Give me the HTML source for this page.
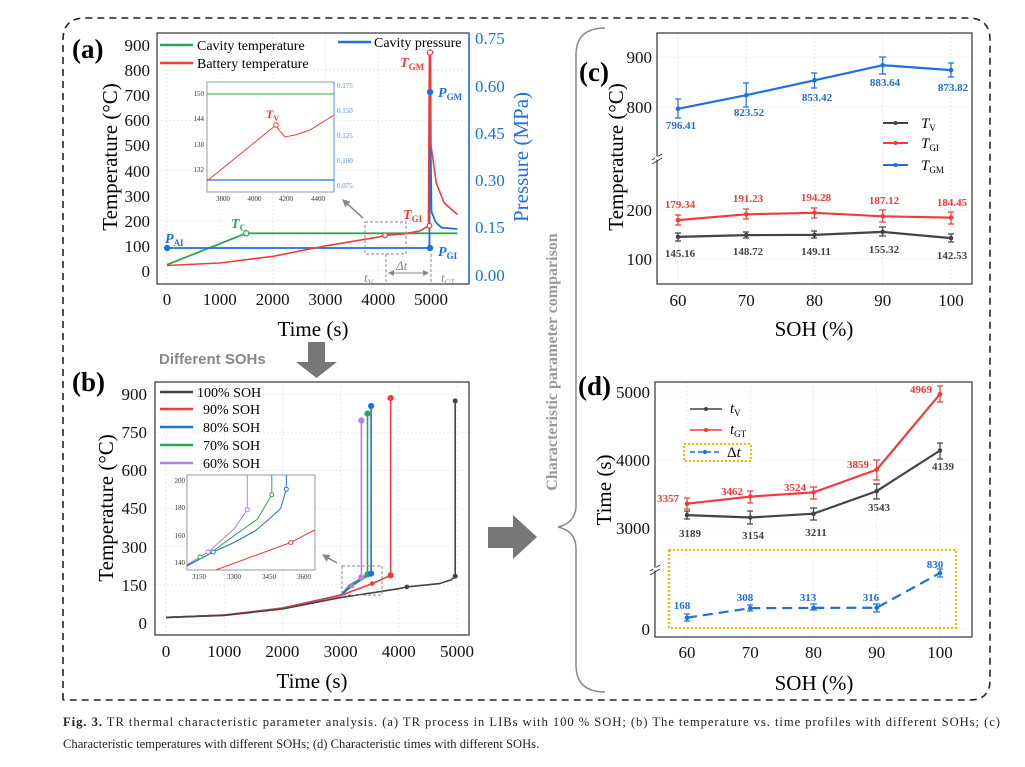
<!DOCTYPE html>
<html><head><meta charset="utf-8"><style>
html,body{margin:0;padding:0;background:#fff}
svg{display:block;font-family:"Liberation Serif",serif}
</style></head><body>
<svg width="1025" height="767" viewBox="0 0 1025 767" xmlns="http://www.w3.org/2000/svg">
<defs>
<marker id="ah" markerWidth="6" markerHeight="6" refX="5" refY="3" orient="auto"><path d="M0,0L6,3L0,6z" fill="#888"/></marker>
</defs>
<path d="M63,700 L63,40 Q63,18 85,18 L968,18 Q990,18 990,40 L990,680 Q990,700 970,700 L63,700" fill="none" stroke="#222" stroke-width="1.6" stroke-dasharray="7,5"/>

<!-- ========== PANEL A ========== -->
<g>
<g stroke="#ddd" stroke-width="0.6" stroke-dasharray="2,2">
<line x1="167" y1="33" x2="167" y2="284"/><line x1="219.8" y1="33" x2="219.8" y2="284"/><line x1="272.6" y1="33" x2="272.6" y2="284"/><line x1="325.4" y1="33" x2="325.4" y2="284"/><line x1="378.2" y1="33" x2="378.2" y2="284"/><line x1="431" y1="33" x2="431" y2="284"/>
<line x1="157" y1="271" x2="469" y2="271"/><line x1="157" y1="220.8" x2="469" y2="220.8"/><line x1="157" y1="170.6" x2="469" y2="170.6"/><line x1="157" y1="120.3" x2="469" y2="120.3"/><line x1="157" y1="70.1" x2="469" y2="70.1"/>
</g>
<rect x="157" y="33" width="312" height="251" fill="none" stroke="#333" stroke-width="1.2"/>
<line x1="469" y1="33" x2="469" y2="284" stroke="#1f6fe0" stroke-width="1.5"/>
<g fill="#111" font-size="17" text-anchor="end">
<text x="150" y="277">0</text><text x="150" y="252">100</text><text x="150" y="227">200</text><text x="150" y="202">300</text><text x="150" y="177">400</text><text x="150" y="151">500</text><text x="150" y="126">600</text><text x="150" y="101">700</text><text x="150" y="76">800</text><text x="150" y="51">900</text>
</g>
<g fill="#1f6fe0" font-size="17">
<text x="475" y="281">0.00</text><text x="475" y="233">0.15</text><text x="475" y="186">0.30</text><text x="475" y="139">0.45</text><text x="475" y="92">0.60</text><text x="475" y="44">0.75</text>
</g>
<g fill="#111" font-size="17" text-anchor="middle">
<text x="167" y="305">0</text><text x="219.8" y="305">1000</text><text x="272.6" y="305">2000</text><text x="325.4" y="305">3000</text><text x="378.2" y="305">4000</text><text x="431" y="305">5000</text>
</g>
<text x="313" y="336" font-size="21" text-anchor="middle">Time (s)</text>
<text transform="translate(117,157) rotate(-90)" font-size="21" text-anchor="middle">Temperature (°C)</text>
<text transform="translate(528,157) rotate(-90)" font-size="21" text-anchor="middle" fill="#1f6fe0">Pressure (MPa)</text>
<text x="72" y="58" font-size="27" font-weight="bold">(a)</text>
<line x1="160" y1="45" x2="193" y2="45" stroke="#2ea55a" stroke-width="2.5"/><text x="197" y="50" font-size="14">Cavity temperature</text>
<line x1="160" y1="63" x2="193" y2="63" stroke="#f03c3c" stroke-width="2.5"/><text x="197" y="68" font-size="14">Battery temperature</text>
<line x1="338" y1="42" x2="371" y2="42" stroke="#1f6fe0" stroke-width="2.5"/><text x="374" y="47" font-size="14">Cavity pressure</text>
<polyline fill="none" stroke="#2ea55a" stroke-width="1.8" points="167,264.7 246.2,233.3 457.4,233.3"/>
<polyline fill="none" stroke="#1f6fe0" stroke-width="1.8" points="167,248 429.4,248 430,91.7 431.5,211.8 435.2,221 437.9,224.4 441.6,227.6 457.4,229"/>
<polyline fill="none" stroke="#f03c3c" stroke-width="1.6" points="167,265.5 219.8,263 272.6,256.4 325.4,245.9 378.2,237.1 385,235.3 404.6,233.8 420.4,230.8 428.4,225.8 429.4,52.5 430.5,52.5 431,145.5 436.3,183 444.2,203 457.4,214.5"/>
<g stroke-width="1.2" fill="#fff">
<circle cx="167" cy="248" r="2.6" stroke="#1f6fe0" fill="#1f6fe0"/><circle cx="246.2" cy="233.3" r="2.6" stroke="#2ea55a"/><circle cx="385" cy="235.3" r="2.3" stroke="#f03c3c"/><circle cx="429.5" cy="225.8" r="2.3" stroke="#f03c3c"/><circle cx="430" cy="52.5" r="2.6" stroke="#f03c3c"/><circle cx="430" cy="92" r="2.6" stroke="#1f6fe0" fill="#1f6fe0"/><circle cx="430" cy="248" r="2.6" stroke="#1f6fe0" fill="#1f6fe0"/>
</g>
<g font-style="italic" font-weight="bold" font-size="14">
<text x="165" y="243" fill="#1f6fe0">P<tspan font-size="9" dy="3" font-style="normal">AI</tspan></text>
<text x="231" y="228" fill="#2ea55a">T<tspan font-size="9" dy="3" font-style="normal">C</tspan></text>
<text x="403" y="219" fill="#f03c3c">T<tspan font-size="9" dy="3" font-style="normal">GI</tspan></text>
<text x="400" y="67" fill="#f03c3c">T<tspan font-size="9" dy="3" font-style="normal">GM</tspan></text>
<text x="438" y="97" fill="#1f6fe0">P<tspan font-size="9" dy="3" font-style="normal">GM</tspan></text>
<text x="438" y="256" fill="#1f6fe0">P<tspan font-size="9" dy="3" font-style="normal">GI</tspan></text>
</g>
<g fill="#888" font-style="italic" font-size="13">
<text x="364" y="282">t<tspan font-size="8" dy="3" font-style="normal">V</tspan></text>
<text x="441" y="282">t<tspan font-size="8" dy="3" font-style="normal">GT</tspan></text>
<text x="396" y="270">Δt</text>
</g>
<rect x="365" y="222" width="41" height="32" fill="none" stroke="#888" stroke-dasharray="3,2"/>
<line x1="386" y1="254" x2="386" y2="284" stroke="#888" stroke-dasharray="3,2"/>
<line x1="431" y1="254" x2="431" y2="284" stroke="#888" stroke-dasharray="3,2"/>
<line x1="389" y1="273" x2="428" y2="273" stroke="#888" marker-end="url(#ah)"/>
<line x1="428" y1="273" x2="389" y2="273" stroke="#888" marker-end="url(#ah)"/>
<line x1="363" y1="218" x2="343" y2="200" stroke="#777" stroke-width="1.3" marker-end="url(#ah)"/>
<rect x="207" y="82" width="127" height="110" fill="#fff" stroke="#999"/>
<line x1="334" y1="82" x2="334" y2="192" stroke="#5a8cf0"/>
<g font-size="7" fill="#333" text-anchor="end"><text x="204" y="96">150</text><text x="204" y="121">144</text><text x="204" y="147">138</text><text x="204" y="172">132</text></g>
<g font-size="7" fill="#5a8cf0"><text x="337" y="88">0.175</text><text x="337" y="113">0.150</text><text x="337" y="138">0.125</text><text x="337" y="163">0.100</text><text x="337" y="188">0.075</text></g>
<g font-size="7" fill="#333" text-anchor="middle"><text x="223" y="201">3800</text><text x="254.5" y="201">4000</text><text x="286" y="201">4200</text><text x="318" y="201">4400</text></g>
<line x1="207" y1="94" x2="334" y2="94" stroke="#2ea55a" stroke-width="1"/>
<line x1="207" y1="180" x2="334" y2="180" stroke="#1f6fe0" stroke-width="1.2"/>
<polyline fill="none" stroke="#f03c3c" stroke-width="1" points="207,181 276,125 279,130 285,137 295,135 310,130 334,115"/>
<circle cx="276" cy="125" r="2.3" fill="#fff" stroke="#f03c3c"/>
<text x="266" y="118" font-size="12" font-style="italic" font-weight="bold" fill="#f03c3c">T<tspan font-size="8" dy="3" font-style="normal">V</tspan></text>
</g>

<text x="159" y="364" font-size="15" font-weight="bold" fill="#888" font-family="Liberation Sans,sans-serif">Different SOHs</text>
<path d="M308,342 L325,342 L325,362 L337,362 L316.5,378 L296,362 L308,362z" fill="#777"/>

<!-- ========== PANEL B ========== -->
<g>
<g stroke="#ddd" stroke-width="0.6" stroke-dasharray="2,2">
<line x1="166" y1="382" x2="166" y2="635"/><line x1="224.2" y1="382" x2="224.2" y2="635"/><line x1="282.4" y1="382" x2="282.4" y2="635"/><line x1="340.6" y1="382" x2="340.6" y2="635"/><line x1="398.8" y1="382" x2="398.8" y2="635"/><line x1="457" y1="382" x2="457" y2="635"/>
<line x1="155" y1="623" x2="469" y2="623"/><line x1="155" y1="584.8" x2="469" y2="584.8"/><line x1="155" y1="546.7" x2="469" y2="546.7"/><line x1="155" y1="508.5" x2="469" y2="508.5"/><line x1="155" y1="470.3" x2="469" y2="470.3"/><line x1="155" y1="432.2" x2="469" y2="432.2"/><line x1="155" y1="394" x2="469" y2="394"/>
</g>
<rect x="155" y="382" width="314" height="253" fill="none" stroke="#333" stroke-width="1.2"/>
<g fill="#111" font-size="17" text-anchor="end">
<text x="147" y="629">0</text><text x="147" y="591">150</text><text x="147" y="553">300</text><text x="147" y="514">450</text><text x="147" y="476">600</text><text x="147" y="438">750</text><text x="147" y="400">900</text>
</g>
<g fill="#111" font-size="17" text-anchor="middle">
<text x="166" y="657">0</text><text x="224.2" y="657">1000</text><text x="282.4" y="657">2000</text><text x="340.6" y="657">3000</text><text x="398.8" y="657">4000</text><text x="457" y="657">5000</text>
</g>
<text x="312" y="688" font-size="21" text-anchor="middle">Time (s)</text>
<text transform="translate(113,508) rotate(-90)" font-size="21" text-anchor="middle">Temperature (°C)</text>
<text x="72" y="391" font-size="27" font-weight="bold">(b)</text>
<g font-size="14">
<line x1="160" y1="392" x2="193" y2="392" stroke="#444" stroke-width="2.5"/><text x="197" y="397">100% SOH</text>
<line x1="160" y1="409" x2="193" y2="409" stroke="#f03c3c" stroke-width="2.5"/><text x="203" y="414">90% SOH</text>
<line x1="160" y1="427" x2="193" y2="427" stroke="#1f6fe0" stroke-width="2.5"/><text x="203" y="432">80% SOH</text>
<line x1="160" y1="445" x2="193" y2="445" stroke="#2ea55a" stroke-width="2.5"/><text x="203" y="450">70% SOH</text>
<line x1="160" y1="463" x2="193" y2="463" stroke="#b77ee6" stroke-width="2.5"/><text x="203" y="468">60% SOH</text>
</g>
<g fill="none" stroke-width="1.6">
<polyline stroke="#b77ee6" points="166,617.4 224.2,615 282.4,608 340.6,595 351.6,586.1 361.4,577.5 361.4,420.5"/>
<polyline stroke="#2ea55a" points="166,617.6 224.2,615.2 282.4,608.3 340.6,595.3 349.6,585.1 367.5,574.4 367.5,413.6"/>
<polyline stroke="#1f6fe0" points="166,617.4 224.2,615.1 282.4,608.2 340.6,595.2 352.9,585.1 371.1,573.6 371.1,406"/>
<polyline stroke="#f03c3c" points="166,617.4 224.2,615.1 282.4,608.2 340.6,595.5 372.2,583.6 390.6,575.4 390.6,398.1"/>
<polyline stroke="#444" points="166,617.4 224.2,615.4 282.4,609 340.6,597.6 398.8,588.7 406.9,586.9 439.5,583.6 451.2,579.8 455.2,576.2 455.2,400.9"/>
</g>
<g stroke-width="1.2">
<circle cx="361.4" cy="420.5" r="2.5" fill="#b77ee6" stroke="#b77ee6"/><circle cx="361.4" cy="577.5" r="2.5" fill="#b77ee6" stroke="#b77ee6"/>
<circle cx="367.5" cy="413.6" r="2.5" fill="#2ea55a" stroke="#2ea55a"/><circle cx="367.5" cy="574.4" r="2.5" fill="#2ea55a" stroke="#2ea55a"/>
<circle cx="371.1" cy="406" r="2.5" fill="#1f6fe0" stroke="#1f6fe0"/><circle cx="371.1" cy="573.6" r="2.5" fill="#1f6fe0" stroke="#1f6fe0"/>
<circle cx="390.6" cy="398.1" r="2.5" fill="#f03c3c" stroke="#f03c3c"/><circle cx="390.6" cy="575.4" r="2.5" fill="#f03c3c" stroke="#f03c3c"/><circle cx="372.2" cy="583.6" r="2.3" fill="#f03c3c"/>
<circle cx="455.2" cy="400.9" r="2.5" fill="#444"/><circle cx="455.2" cy="576.2" r="2.5" fill="#444"/><circle cx="406.9" cy="586.9" r="2.3" fill="#444"/>
<circle cx="352" cy="586" r="2.3" fill="#b77ee6"/>
</g>
<rect x="342" y="566" width="40" height="29" fill="none" stroke="#888" stroke-dasharray="3,2"/>
<line x1="337" y1="563" x2="323" y2="555" stroke="#777" stroke-width="1.3" marker-end="url(#ah)"/>
<rect x="187" y="475" width="128" height="95" fill="#fff" stroke="#999"/>
<g font-size="7" fill="#333" text-anchor="end"><text x="185" y="483">200</text><text x="185" y="510">180</text><text x="185" y="538">160</text><text x="185" y="565">140</text></g>
<g font-size="7" fill="#333" text-anchor="middle"><text x="199" y="579">3150</text><text x="234" y="579">3300</text><text x="269" y="579">3450</text><text x="304" y="579">3600</text></g>
<g fill="none" stroke-width="1">
<polyline stroke="#f03c3c" points="215.7,570 290.7,542.5 308.7,533 315,530"/>
<polyline stroke="#1f6fe0" points="187,566 213.2,552 234,542.5 255,531 269,519.3 280.7,508.3 286.3,489.2 286.3,475"/>
<polyline stroke="#2ea55a" points="187,565 208,554.8 234,535.7 257.3,519.3 271.8,494.7 271.8,475"/>
<polyline stroke="#b77ee6" points="187.3,564.4 208.1,552 234,529 247.3,509.7 247.3,475"/>
</g>
<g stroke-width="1" fill="#fff">
<circle cx="290.7" cy="542.5" r="2" stroke="#f03c3c"/><circle cx="286.3" cy="489.2" r="2" stroke="#1f6fe0"/><circle cx="271.8" cy="494.7" r="2" stroke="#2ea55a"/><circle cx="247.3" cy="509.7" r="2" stroke="#b77ee6"/>
<circle cx="213.2" cy="552" r="2" stroke="#1f6fe0"/><circle cx="200" cy="557" r="2" stroke="#2ea55a"/><circle cx="208" cy="552" r="2" stroke="#b77ee6"/>
</g>
</g>

<path d="M488,527 L513,527 L513,515 L537,537 L513,559 L513,548 L488,548z" fill="#777"/>

<!-- bracket + vertical label -->
<path d="M605,28 Q576,28 576,55 L576,505 Q576,523 558,527 Q576,531 576,549 L576,665 Q576,692 605,692" fill="none" stroke="#888" stroke-width="1.5"/>
<text transform="translate(557,362) rotate(-90)" font-size="16" font-weight="bold" fill="#999" text-anchor="middle">Characteristic parameter comparison</text>

<!-- ========== PANEL C ========== -->
<g>
<g stroke="#ddd" stroke-width="0.6" stroke-dasharray="2,2">
<line x1="678" y1="33" x2="678" y2="284"/><line x1="746.2" y1="33" x2="746.2" y2="284"/><line x1="814.5" y1="33" x2="814.5" y2="284"/><line x1="882.7" y1="33" x2="882.7" y2="284"/><line x1="951" y1="33" x2="951" y2="284"/>
<line x1="657" y1="57" x2="972" y2="57"/><line x1="657" y1="107" x2="972" y2="107"/><line x1="657" y1="210" x2="972" y2="210"/><line x1="657" y1="259" x2="972" y2="259"/>
</g>
<rect x="657" y="33" width="315" height="251" fill="none" stroke="#333" stroke-width="1.2"/>
<line x1="652" y1="160" x2="662" y2="154" stroke="#333"/><line x1="652" y1="164" x2="662" y2="158" stroke="#333"/>
<line x1="655" y1="158" x2="659" y2="158" stroke="#fff" stroke-width="3"/>
<g fill="#111" font-size="17" text-anchor="end">
<text x="652" y="63">900</text><text x="652" y="113">800</text><text x="652" y="216">200</text><text x="652" y="265">100</text>
</g>
<g fill="#111" font-size="17" text-anchor="middle">
<text x="678" y="306">60</text><text x="746.2" y="306">70</text><text x="814.5" y="306">80</text><text x="882.7" y="306">90</text><text x="951" y="306">100</text>
</g>
<text x="814" y="336" font-size="21" text-anchor="middle">SOH (%)</text>
<text transform="translate(623,157) rotate(-90)" font-size="21" text-anchor="middle">Temperature (°C)</text>
<text x="579" y="81" font-size="27" font-weight="bold">(c)</text>
<g fill="none" stroke-width="2.2">
<polyline stroke="#1f6fe0" points="678,108.8 746.2,95.2 814.5,80.3 882.7,65.2 951,70.1"/>
<polyline stroke="#f03c3c" points="678,220.1 746.2,214.3 814.5,212.8 882.7,216.3 951,217.6"/>
<polyline stroke="#444" points="678,236.9 746.2,235.1 814.5,234.9 882.7,231.9 951,238.1"/>
</g>
<g stroke-width="1.2">
<path d="M678,99v19M675,99h6M675,118h6M746.2,83v24M743,83h6M743,107h6M814.5,73v15M811,73h6M811,88h6M882.7,57v17M879,57h7M879,74h7M951,63v14M948,63h6M948,77h6" stroke="#1f6fe0"/>
<path d="M678,215v10M675,215h6M675,225h6M746.2,209v10M743,209h6M743,219h6M814.5,208v10M811,208h6M811,218h6M882.7,210v12M879,210h7M879,222h7M951,212v12M948,212h6M948,224h6" stroke="#f03c3c"/>
<path d="M678,233v8M675,233h6M675,241h6M746.2,232v6M743,232h6M743,238h6M814.5,231v7M811,231h6M811,238h6M882.7,227v9M879,227h7M879,236h7M951,234v8M948,234h6M948,242h6" stroke="#444"/>
</g>
<g fill="#1f6fe0"><circle cx="678" cy="108.8" r="2.3"/><circle cx="746.2" cy="95.2" r="2.3"/><circle cx="814.5" cy="80.3" r="2.3"/><circle cx="882.7" cy="65.2" r="2.3"/><circle cx="951" cy="70.1" r="2.3"/></g>
<g fill="#f03c3c"><circle cx="678" cy="220.1" r="2.3"/><circle cx="746.2" cy="214.3" r="2.3"/><circle cx="814.5" cy="212.8" r="2.3"/><circle cx="882.7" cy="216.3" r="2.3"/><circle cx="951" cy="217.6" r="2.3"/></g>
<g fill="#444"><circle cx="678" cy="236.9" r="2.3"/><circle cx="746.2" cy="235.1" r="2.3"/><circle cx="814.5" cy="234.9" r="2.3"/><circle cx="882.7" cy="231.9" r="2.3"/><circle cx="951" cy="238.1" r="2.3"/></g>
<g font-size="11" font-weight="bold" text-anchor="middle">
<g fill="#1f6fe0"><text x="681" y="129">796.41</text><text x="749" y="116">823.52</text><text x="817" y="101">853.42</text><text x="885" y="86">883.64</text><text x="953" y="91">873.82</text></g>
<g fill="#f03c3c"><text x="680" y="208">179.34</text><text x="748" y="202">191.23</text><text x="816" y="201">194.28</text><text x="884" y="204">187.12</text><text x="952" y="206">184.45</text></g>
<g fill="#444"><text x="680" y="257">145.16</text><text x="748" y="255">148.72</text><text x="816" y="255">149.11</text><text x="884" y="253">155.32</text><text x="952" y="259">142.53</text></g>
</g>
<line x1="883" y1="123" x2="908" y2="123" stroke="#444" stroke-width="2"/><circle cx="895.5" cy="123" r="2" fill="#444"/>
<line x1="883" y1="143" x2="908" y2="143" stroke="#f03c3c" stroke-width="2"/><circle cx="895.5" cy="143" r="2" fill="#f03c3c"/>
<line x1="883" y1="165" x2="908" y2="165" stroke="#1f6fe0" stroke-width="2"/><circle cx="895.5" cy="165" r="2" fill="#1f6fe0"/>
<g font-size="15" font-style="italic">
<text x="921" y="128">T<tspan font-size="9" dy="3" font-style="normal">V</tspan></text>
<text x="921" y="148">T<tspan font-size="9" dy="3" font-style="normal">GI</tspan></text>
<text x="921" y="170">T<tspan font-size="9" dy="3" font-style="normal">GM</tspan></text>
</g>
</g>

<!-- ========== PANEL D ========== -->
<g>
<g stroke="#ddd" stroke-width="0.6" stroke-dasharray="2,2">
<line x1="687" y1="382" x2="687" y2="637"/><line x1="750.25" y1="382" x2="750.25" y2="637"/><line x1="813.5" y1="382" x2="813.5" y2="637"/><line x1="876.75" y1="382" x2="876.75" y2="637"/><line x1="940" y1="382" x2="940" y2="637"/>
<line x1="655" y1="392" x2="972" y2="392"/><line x1="655" y1="460" x2="972" y2="460"/><line x1="655" y1="528" x2="972" y2="528"/><line x1="655" y1="629" x2="972" y2="629"/>
</g>
<rect x="655" y="382" width="317" height="255" fill="none" stroke="#333" stroke-width="1.2"/>
<line x1="650" y1="571" x2="660" y2="565" stroke="#333"/><line x1="650" y1="575" x2="660" y2="569" stroke="#333"/>
<line x1="653" y1="569" x2="657" y2="569" stroke="#fff" stroke-width="3"/>
<g fill="#111" font-size="17" text-anchor="end">
<text x="650" y="398">5000</text><text x="650" y="466">4000</text><text x="650" y="534">3000</text><text x="650" y="635">0</text>
</g>
<g fill="#111" font-size="17" text-anchor="middle">
<text x="687" y="658">60</text><text x="750.25" y="658">70</text><text x="813.5" y="658">80</text><text x="876.75" y="658">90</text><text x="940" y="658">100</text>
</g>
<text x="814" y="690" font-size="21" text-anchor="middle">SOH (%)</text>
<text transform="translate(611,490) rotate(-90)" font-size="21" text-anchor="middle">Time (s)</text>
<text x="578" y="395" font-size="27" font-weight="bold">(d)</text>
<rect x="669" y="550" width="287" height="78" fill="none" stroke="#f5b800" stroke-width="2.2" stroke-dasharray="2,2"/>
<g fill="none" stroke-width="2.2">
<polyline stroke="#f03c3c" points="687,503.7 750.25,496.6 813.5,492.4 876.75,469.6 940,394.1"/>
<polyline stroke="#444" points="687,515.1 750.25,517.5 813.5,513.7 876.75,491.1 940,450.5"/>
<polyline stroke="#1f6fe0" stroke-dasharray="10,6" points="687,617.7 750.25,608.2 813.5,607.9 876.75,607.7 940,573"/>
</g>
<g stroke-width="1.2">
<path d="M687,498v11M684,498h6M684,509h6M750.25,491v12M747,491h6M747,503h6M813.5,487v12M810,487h7M810,499h7M876.75,460v20M873,460h7M873,480h7M940,386v16M937,386h6M937,402h6" stroke="#f03c3c"/>
<path d="M687,511v8M684,511h6M684,519h6M750.25,511v13M747,511h6M747,524h6M813.5,508v12M810,508h7M810,520h7M876.75,484v15M873,484h7M873,499h7M940,443v16M937,443h6M937,459h6" stroke="#444"/>
<path d="M687,614v7M684,614h6M684,621h6M750.25,605v6M747,605h6M747,611h6M813.5,604v6M810,604h7M810,610h7M876.75,604v8M873,604h7M873,612h7M940,569v8M937,569h6M937,577h6" stroke="#1f6fe0"/>
</g>
<g fill="#f03c3c"><circle cx="687" cy="503.7" r="2.3"/><circle cx="750.25" cy="496.6" r="2.3"/><circle cx="813.5" cy="492.4" r="2.3"/><circle cx="876.75" cy="469.6" r="2.3"/><circle cx="940" cy="394.1" r="2.3"/></g>
<g fill="#444"><circle cx="687" cy="515.1" r="2.3"/><circle cx="750.25" cy="517.5" r="2.3"/><circle cx="813.5" cy="513.7" r="2.3"/><circle cx="876.75" cy="491.1" r="2.3"/><circle cx="940" cy="450.5" r="2.3"/></g>
<g fill="#1f6fe0"><circle cx="687" cy="617.7" r="2.3"/><circle cx="750.25" cy="608.2" r="2.3"/><circle cx="813.5" cy="607.9" r="2.3"/><circle cx="876.75" cy="607.7" r="2.3"/><circle cx="940" cy="573" r="2.3"/></g>
<g font-size="11" font-weight="bold" text-anchor="middle">
<g fill="#f03c3c"><text x="668" y="502">3357</text><text x="732" y="495">3462</text><text x="795" y="491">3524</text><text x="858" y="468">3859</text><text x="921" y="393">4969</text></g>
<g fill="#444"><text x="690" y="537">3189</text><text x="753" y="539">3154</text><text x="816" y="536">3211</text><text x="879" y="511">3543</text><text x="943" y="470">4139</text></g>
<g fill="#1f6fe0"><text x="682" y="609">168</text><text x="745" y="601">308</text><text x="808" y="601">313</text><text x="871" y="601">316</text><text x="935" y="568">830</text></g>
</g>
<line x1="690" y1="409" x2="722" y2="409" stroke="#444" stroke-width="1.5"/><circle cx="706" cy="409" r="2" fill="#444"/>
<line x1="690" y1="430" x2="722" y2="430" stroke="#f03c3c" stroke-width="1.5"/><circle cx="706" cy="430" r="2" fill="#f03c3c"/>
<rect x="684" y="444" width="67" height="17" fill="none" stroke="#f5b800" stroke-width="2" stroke-dasharray="2,2"/>
<line x1="690" y1="452" x2="722" y2="452" stroke="#1f6fe0" stroke-width="1.5" stroke-dasharray="5,3"/><circle cx="705" cy="452" r="2" fill="#1f6fe0"/>
<g font-size="15" font-style="italic">
<text x="730" y="413">t<tspan font-size="9" dy="3" font-style="normal">V</tspan></text>
<text x="730" y="434">t<tspan font-size="9" dy="3" font-style="normal">GT</tspan></text>
<text x="727" y="457" font-style="normal">Δ<tspan font-style="italic">t</tspan></text>
</g>
</g>

<g font-size="12.6" fill="#222">
<text x="63" y="726" textLength="937" lengthAdjust="spacing"><tspan font-weight="bold">Fig. 3.</tspan> TR thermal characteristic parameter analysis. (a) TR process in LIBs with 100 % SOH; (b) The temperature vs. time profiles with different SOHs; (c)</text>
<text x="63" y="748">Characteristic temperatures with different SOHs; (d) Characteristic times with different SOHs.</text>
</g>
</svg>
</body></html>
